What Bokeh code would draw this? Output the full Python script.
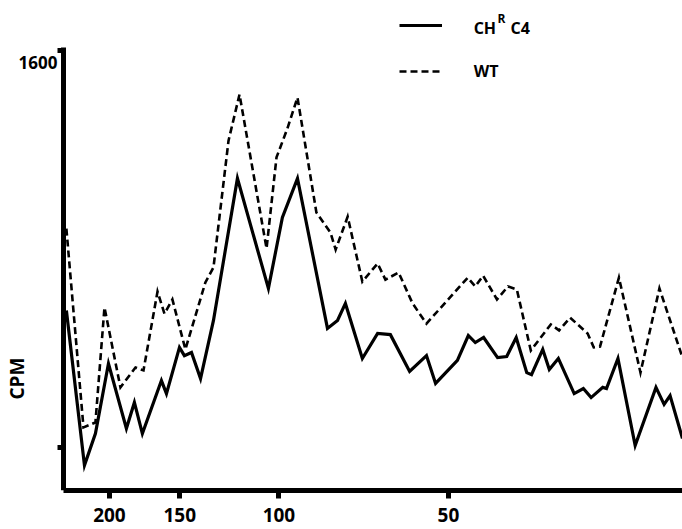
import math
from bokeh.plotting import figure
from bokeh.models import (Range1d, FixedTicker, NumeralTickFormatter, Legend,
                          LegendItem, Label)
from bokeh.core.properties import value
from bokeh.embed import file_html
from bokeh.resources import INLINE

# ---- data (molecular weight, kDa -> CPM) ----
chr_mw = [238.5, 221.5, 211.8, 200.8, 186.6, 180.6, 174.8, 161.7, 158.4, 150.2,
          147.2, 143.0, 137.8, 130.7, 118.5, 104.4, 98.6, 92.7, 82.0, 78.7,
          76.2, 71.1, 66.8, 63.4, 58.6, 54.7, 52.7, 48.2, 46.1, 44.8,
          43.3, 40.9, 39.4, 37.9, 36.3, 35.6, 34.0, 33.1, 31.9, 29.9,
          28.8, 27.9, 26.6, 26.2, 25.0, 23.3, 21.4, 20.7, 20.2, 19.2]
chr_cpm = [683, 137, 249, 496, 267, 359, 249, 436, 390, 553,
           524, 535, 443, 648, 1149, 761, 1011, 1149, 620, 648,
           708, 514, 602, 598, 468, 524, 426, 507, 595, 570,
           588, 517, 521, 588, 464, 457, 546, 475, 514, 390,
           408, 376, 412, 408, 514, 207, 412, 352, 383, 232]

wt_mw = [238.5, 222.4, 211.8, 204.1, 191.2, 179.8, 174.0, 164.3, 159.7, 154.6,
         146.6, 135.1, 130.7, 122.9, 117.5, 105.2, 101.0, 96.6, 92.7, 85.8,
         81.0, 79.3, 75.5, 71.1, 66.8, 64.7, 61.3, 57.9, 54.7, 46.2,
         44.8, 43.4, 41.0, 39.2, 37.8, 35.7, 32.9, 31.8, 30.4, 28.3,
         27.6, 26.9, 24.9, 22.8, 21.1, 19.2]
wt_cpm = [972, 271, 288, 694, 412, 482, 472, 750, 672, 722,
          546, 782, 835, 1282, 1445, 902, 1223, 1325, 1434, 1029,
          958, 898, 1014, 785, 849, 792, 817, 708, 637, 799,
          768, 806, 722, 768, 757, 542, 634, 613, 658, 602,
          553, 556, 799, 464, 761, 517]

x_ticks = [200, 150, 100, 50]
y_ticks = [200, 1600]
y_tick_text = {200: "", 1600: ""}

# axis extents (data units)
MW_MAX, MW_MIN = 241.4, 19.2
CPM_MIN, CPM_TOP = 48.4, 1612

FONT = "Open Sans"

p = figure(width=682, height=529, x_axis_type="log",
           x_range=Range1d(302.2, MW_MIN), y_range=Range1d(CPM_MIN, 1741),
           output_backend="svg", toolbar_location=None,
           min_border_left=8, min_border_right=0,
           min_border_top=10, min_border_bottom=39)
p.outline_line_color = None
p.grid.visible = False
p.background_fill_color = "white"
p.border_fill_color = "white"

r_chr = p.line(chr_mw, chr_cpm, line_color="black", line_width=3.2,
               line_join="miter")
r_wt = p.line(wt_mw, wt_cpm, line_color="black", line_width=2.6,
              line_dash="7 4", line_join="miter")

xa = p.xaxis[0]
xa.ticker = FixedTicker(ticks=x_ticks)
xa.formatter = NumeralTickFormatter(format="0")
xa.bounds = (MW_MIN, MW_MAX)
xa.axis_line_width = 5
xa.major_tick_line_width = 5
xa.major_tick_out = 8
xa.major_tick_in = 0
xa.minor_tick_line_color = None
xa.major_label_text_font = FONT
xa.major_label_text_font_style = "bold"
xa.major_label_text_font_size = "19px"
xa.major_label_text_color = "black"
xa.major_label_standoff = 9

ya = p.yaxis[0]
ya.ticker = FixedTicker(ticks=y_ticks)
ya.major_label_overrides = y_tick_text
ya.fixed_location = MW_MAX
ya.bounds = (CPM_MIN, CPM_TOP)
ya.axis_line_width = 5
ya.major_tick_line_width = 5
ya.major_tick_out = 6
ya.major_tick_in = 0
ya.minor_tick_line_color = None
ya.major_label_standoff = 0
ya.major_label_text_font_size = "1px"

legend = Legend(items=[LegendItem(label=value(" "), renderers=[r_chr]),
                       LegendItem(label=value(" "), renderers=[r_wt])],
                location=(391, 409), orientation="vertical",
                glyph_width=43, glyph_height=20, label_height=20, label_width=1,
                spacing=26, padding=0, margin=0, label_standoff=0,
                border_line_color=None, background_fill_color=None,
                label_text_font_size="1px")
p.add_layout(legend, "center")

def lab(x, y, text, size, **kw):
    p.add_layout(Label(x=x, y=y, text=text, text_font=FONT,
                       text_font_style="bold", text_font_size=size,
                       text_color="black", **kw))

lab(247.4, 1557, "1600", "17px", text_align="right", text_baseline="middle")
lab(45.1, 1681, "CH", "16px", text_baseline="alphabetic")
lab(40.9, 1713, "R", "12px", text_baseline="alphabetic")
lab(38.8, 1681, "C4", "16px", text_baseline="alphabetic")
lab(45.1, 1529, "WT", "16px", text_baseline="alphabetic")
lab(291.3, 443, "CPM", "19px", angle=math.pi / 2, text_align="center",
    text_baseline="middle")

open("out.html", "w").write(file_html(p, INLINE))
